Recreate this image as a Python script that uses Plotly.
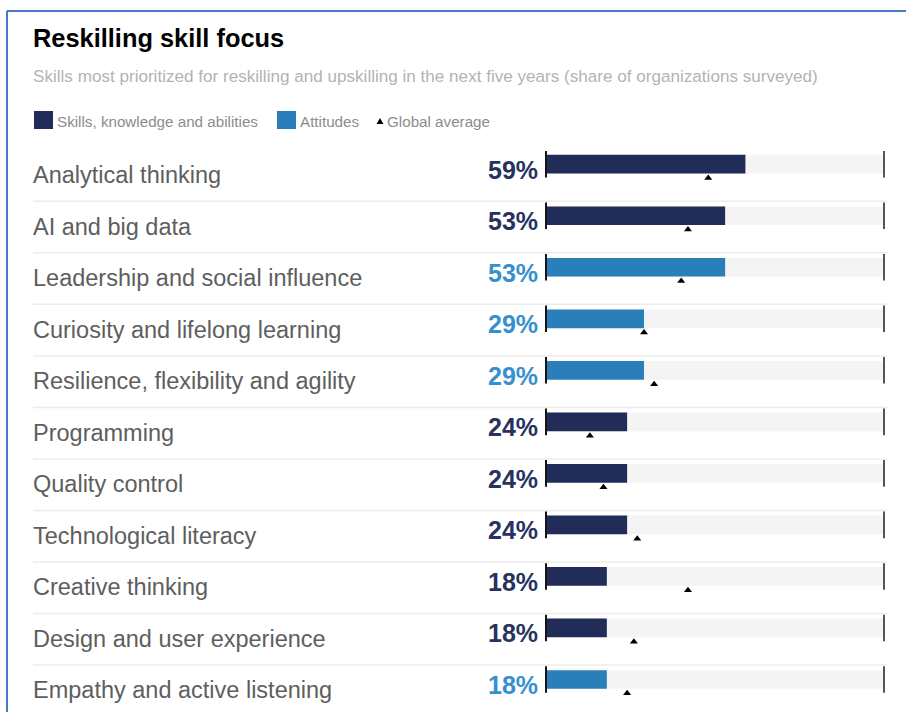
import plotly.graph_objects as go

# ---- data -------------------------------------------------------------
categories = [
    "Analytical thinking",
    "AI and big data",
    "Leadership and social influence",
    "Curiosity and lifelong learning",
    "Resilience, flexibility and agility",
    "Programming",
    "Quality control",
    "Technological literacy",
    "Creative thinking",
    "Design and user experience",
    "Empathy and active listening",
]
share = [59, 53, 53, 29, 29, 24, 24, 24, 18, 18, 18]
skill_type = [
    "Skills, knowledge and abilities",
    "Skills, knowledge and abilities",
    "Attitudes",
    "Attitudes",
    "Attitudes",
    "Skills, knowledge and abilities",
    "Skills, knowledge and abilities",
    "Skills, knowledge and abilities",
    "Skills, knowledge and abilities",
    "Skills, knowledge and abilities",
    "Attitudes",
]
global_average = [48, 42, 40, 29, 32, 13, 17, 27, 42, 26, 24]
full_scale = 100

# ---- styling ----------------------------------------------------------
W, H = 906, 712
NAVY = "#212d58"
BLUE = "#2a7fba"
TEXT_COLOR = {"Skills, knowledge and abilities": "#27325e", "Attitudes": "#3590cd"}
BAR_COLOR = {"Skills, knowledge and abilities": NAVY, "Attitudes": BLUE}
TRACK = "#f4f4f4"
FONT = "Liberation Sans, Arial, Helvetica, sans-serif"

ROW0_PX = 164.2      # pixel centre of the first row
ROW_PX = 51.53       # pixel spacing between rows
BAR_W = 0.363        # bar thickness in row units
LEFT = 31            # left edge of text column (annotation anchor)


def px(x):
    return x / W


def py(y):
    return 1 - y / H


rows = list(range(len(categories)))

fig = go.Figure()

# background tracks (0-100%)
fig.add_trace(go.Bar(
    x=[full_scale] * len(rows), y=rows, orientation="h", width=BAR_W,
    marker=dict(color=TRACK, line=dict(width=0)),
    hoverinfo="skip", showlegend=False,
))

# value bars, one trace per skill type
for group in ["Skills, knowledge and abilities", "Attitudes"]:
    idx = [i for i in rows if skill_type[i] == group]
    fig.add_trace(go.Bar(
        x=[share[i] for i in idx], y=idx, orientation="h", width=BAR_W,
        name=group,
        marker=dict(color=BAR_COLOR[group], line=dict(width=0)),
        showlegend=False,
    ))

# baseline and end ticks of every track
fig.add_trace(go.Scatter(
    x=[0] * len(rows), y=rows, mode="markers", cliponaxis=False,
    marker=dict(symbol="line-ns", size=19, line=dict(width=2, color="#151515")),
    hoverinfo="skip", showlegend=False,
))
fig.add_trace(go.Scatter(
    x=[full_scale] * len(rows), y=rows, mode="markers", cliponaxis=False,
    marker=dict(symbol="line-ns", size=19, line=dict(width=2, color="#555555")),
    hoverinfo="skip", showlegend=False,
))

# global average markers just below each bar
fig.add_trace(go.Scatter(
    x=global_average, y=[r + 0.268 for r in rows], mode="markers",
    cliponaxis=False, name="Global average",
    marker=dict(symbol="triangle-up", size=7, color="#000000"),
    showlegend=False,
))

annotations = []
shapes = []

# row labels, values and separators
for i in rows:
    annotations.append(dict(
        xref="paper", x=px(LEFT), xanchor="left",
        yref="y", y=i, yanchor="middle", yshift=-10.8,
        text=categories[i], showarrow=False,
        font=dict(family=FONT, size=23.5, color="#5e5e5e"),
    ))
    annotations.append(dict(
        xref="paper", x=px(540), xanchor="right",
        yref="y", y=i, yanchor="middle", yshift=-5.3,
        text=f"{share[i]}%", showarrow=False,
        font=dict(family=FONT, size=25, color=TEXT_COLOR[skill_type[i]], weight="bold"),
    ))
    shapes.append(dict(
        type="line", xref="paper", yref="y",
        x0=px(33), x1=px(887), y0=i + 0.72, y1=i + 0.72,
        line=dict(color="#ececec", width=1.5), layer="below",
    ))

# title and subtitle
annotations.append(dict(
    xref="paper", x=px(LEFT), xanchor="left",
    yref="paper", y=py(38), yanchor="middle",
    text="Reskilling skill focus", showarrow=False,
    font=dict(family=FONT, size=25.4, color="#000000", weight="bold"),
))
annotations.append(dict(
    xref="paper", x=px(LEFT), xanchor="left",
    yref="paper", y=py(76), yanchor="middle",
    text="Skills most prioritized for reskilling and upskilling in the next five years (share of organizations surveyed)",
    showarrow=False,
    font=dict(family=FONT, size=17.1, color="#b3b3b3"),
))

# legend
legend_items = [
    (34, "Skills, knowledge and abilities", NAVY),
    (277, "Attitudes", BLUE),
]
for x0, label, color in legend_items:
    shapes.append(dict(
        type="rect", xref="paper", yref="paper",
        x0=px(x0), x1=px(x0 + 19), y0=py(129), y1=py(111),
        fillcolor=color, line=dict(width=0),
    ))
    annotations.append(dict(
        xref="paper", x=px(x0 + 21), xanchor="left",
        yref="paper", y=py(121), yanchor="middle",
        text=label, showarrow=False,
        font=dict(family=FONT, size=15.2, color="#8c8c8c"),
    ))
tx, ty = 380, 121
shapes.append(dict(
    type="path", xref="paper", yref="paper",
    path=f"M {px(tx - 3.5)},{py(ty + 3)} L {px(tx + 3.5)},{py(ty + 3)} L {px(tx)},{py(ty - 3)} Z",
    fillcolor="#000000", line=dict(width=0),
))
annotations.append(dict(
    xref="paper", x=px(385), xanchor="left",
    yref="paper", y=py(121), yanchor="middle",
    text="Global average", showarrow=False,
    font=dict(family=FONT, size=15.2, color="#8c8c8c"),
))

# frame lines (top and left)
shapes.append(dict(type="line", xref="paper", yref="paper",
                   x0=px(7), x1=1, y0=py(11), y1=py(11),
                   line=dict(color="#4a78c9", width=2)))
shapes.append(dict(type="line", xref="paper", yref="paper",
                   x0=px(7), x1=px(7), y0=0, y1=py(11),
                   line=dict(color="#4a78c9", width=2)))

fig.update_layout(
    width=W, height=H,
    margin=dict(l=0, r=0, t=0, b=0),
    paper_bgcolor="#ffffff", plot_bgcolor="rgba(0,0,0,0)",
    barmode="overlay",
    xaxis=dict(domain=[px(546), px(884)], range=[0, full_scale],
               visible=False, fixedrange=True),
    yaxis=dict(domain=[0, 1],
               range=[(H - ROW0_PX) / ROW_PX, -ROW0_PX / ROW_PX],
               visible=False, fixedrange=True),
    annotations=annotations,
    shapes=shapes,
    showlegend=False,
)

fig.write_html("out.html")
